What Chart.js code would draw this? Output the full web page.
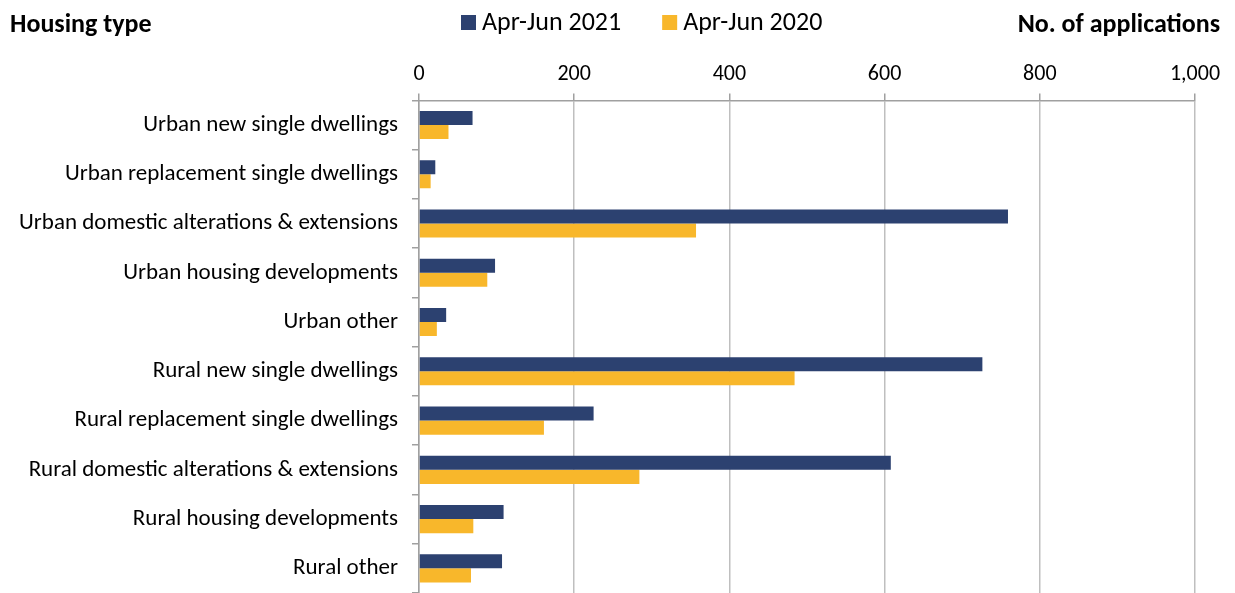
<!DOCTYPE html>
<html>
<head>
<meta charset="utf-8">
<script src="https://cdn.jsdelivr.net/npm/chart.js@4"></script>
<style>
  html, body { margin:0; padding:0; background:#fff; }
  #wrap { width:1235px; height:593px; position:relative; }
</style>
</head>
<body>
<div id="wrap"><canvas id="chart"></canvas></div>
<script>
// ─── DATA ─────────────────────────────────────────────────────────────────────
const categories = [
  'Urban new single dwellings',
  'Urban replacement single dwellings',
  'Urban domestic alterations & extensions',
  'Urban housing developments',
  'Urban other',
  'Rural new single dwellings',
  'Rural replacement single dwellings',
  'Rural domestic alterations & extensions',
  'Rural housing developments',
  'Rural other'
];
const apr2021 = [69, 21, 759, 98, 35, 726, 225, 608, 109, 107];
const apr2020 = [38, 15, 357, 88, 23, 484, 161, 284, 70, 67];
const xTicks = [0, 200, 400, 600, 800, 1000];

const FONT = "Carlito, Calibri, 'Open Sans', sans-serif";

// headings + legend drawn on the canvas
const headings = {
  id: 'headings',
  afterDraw(chart) {
    const c = chart.ctx;
    c.save();
    c.fillStyle = '#000';
    c.font = `bold 26px ${FONT}`;
    c.textBaseline = 'middle';
    c.textAlign = 'left';
    c.fillText('Housing type', 10, 25);
    c.textAlign = 'right';
    c.fillText('No. of applications', 1220, 25);

    // legend
    c.font = `26px ${FONT}`;
    c.textAlign = 'left';
    let x = 461;
    chart.data.datasets.forEach(ds => {
      c.fillStyle = ds.backgroundColor;
      c.fillRect(x, 15, 15, 15);
      c.fillStyle = '#000';
      c.fillText(ds.label, x + 21, 23);
      x += 21 + c.measureText(ds.label).width + 41;
    });
    c.restore();
  }
};

new Chart(document.getElementById('chart').getContext('2d'), {
  type: 'bar',
  data: {
    labels: categories,
    datasets: [
      { label: 'Apr-Jun 2021', data: apr2021, backgroundColor: '#2C4170', barPercentage: 1, categoryPercentage: 0.57 },
      { label: 'Apr-Jun 2020', data: apr2020, backgroundColor: '#F8B72B', barPercentage: 1, categoryPercentage: 0.57 }
    ]
  },
  options: {
    indexAxis: 'y',
    responsive: true, maintainAspectRatio: false, animation: false,
    layout: { padding: { left: 0, right: 40, top: 55, bottom: 0 } },
    plugins: {
      legend: { display: false },
      tooltip: { enabled: false }
    },
    scales: {
      x: {
        position: 'top', min: 0, max: 1000,
        afterBuildTicks: s => { s.ticks = xTicks.map(v => ({ value: v })); },
        ticks: { font: { family: FONT, size: 22 }, color: '#000', padding: 6 },
        grid: { color: '#BFBFBF', lineWidth: 1.5, tickLength: 7, tickColor: '#A0A0A0' },
        border: { color: '#A0A0A0', width: 1.5 }
      },
      y: {
        afterFit: s => { s.width = 419; s.paddingTop = 0; s.paddingBottom = 0; },
        ticks: { font: { family: FONT, size: 23 }, color: '#000', padding: 14 },
        grid: { offset: true, drawOnChartArea: false, tickLength: 7, color: '#A0A0A0', lineWidth: 1.5 },
        border: { color: '#A0A0A0', width: 1.5 }
      }
    }
  },
  plugins: [headings]
});
</script>
</body>
</html>
